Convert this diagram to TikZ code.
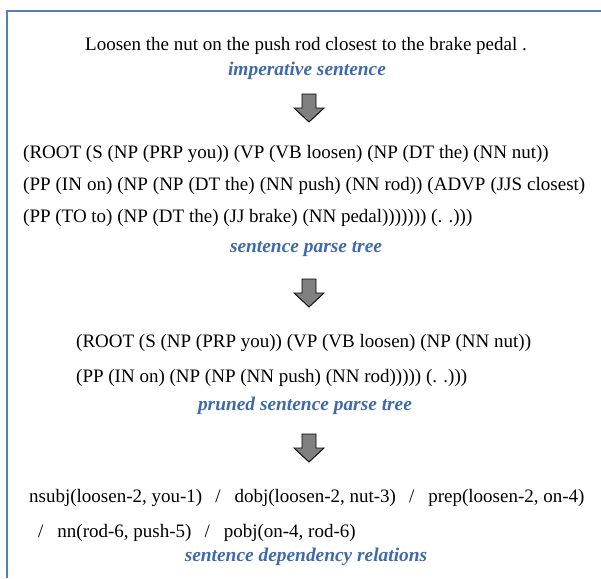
\documentclass[tikz,border=0pt]{standalone}
\usepackage{fontspec}
\setmainfont{Liberation Serif}
\usepackage{xcolor}
\usetikzlibrary{positioning}

\definecolor{frameblue}{HTML}{4F81BD}
\definecolor{tagblue}{HTML}{3E6AAA}
\definecolor{arrowgray}{HTML}{808080}

\newcommand{\depsep}{\hspace{13pt}/\hspace{14pt}}

\tikzset{
    blockarrow/.pic={
        \draw[fill=arrowgray, line width=0.9pt, line join=miter]
            (-7,0) -- (7,0) -- (7,14) -- (15,14) -- (0,28) -- (-15,14) -- (-7,14) -- cycle;
    }
}

\begin{document}
\begin{tikzpicture}[
    x=1pt, y=-1pt,
    every node/.style={font=\fontsize{19}{22}\selectfont, inner sep=0pt},
    line/.style={anchor=base west},
    mid/.style={anchor=base},
    tag/.style={anchor=base, text=tagblue, font=\fontsize{19.4}{22}\selectfont\bfseries\itshape}
]
\useasboundingbox (0,0) rectangle (601,578);
\draw[frameblue, line width=2.2pt] (601,11) -- (7,11) -- (7,578);

\node[mid] (sent) at (306,51) {Loosen the nut on the push rod closest to the brake pedal .};
\node[tag] (imptag) at (307,75) {imperative sentence};
\pic at (309,94) {blockarrow};

\node[line] (tree1) at (23,158) {(ROOT (S (NP (PRP you)) (VP (VB loosen) (NP (DT the) (NN nut))};
\node[line] (tree2) at (23,190) {\spaceskip=5.0pt (PP (IN on) (NP (NP (DT the) (NN push) (NN rod)) (ADVP (JJS closest)};
\node[line] (tree3) at (23,222) {(PP (TO to) (NP (DT the) (JJ brake) (NN pedal))))))) (. .)))};
\node[tag] (treetag) at (306,252) {sentence parse tree};
\pic at (309,279) {blockarrow};

\node[line] (prune1) at (76,347) {(ROOT (S (NP (PRP you)) (VP (VB loosen) (NP (NN nut))};
\node[line] (prune2) at (76,382) {(PP (IN on) (NP (NP (NN push) (NN rod))))) (. .)))};
\node[tag] (prunetag) at (305,410) {pruned sentence parse tree};
\pic at (309,434) {blockarrow};

\node[line] (dep1) at (29,502) {nsubj(loosen-2, you-1)\depsep dobj(loosen-2, nut-3)\depsep prep(loosen-2, on-4)};
\node[line] (dep2) at (38,537) {/\hspace{14pt}nn(rod-6, push-5)\depsep pobj(on-4, rod-6)};
\node[tag] (deptag) at (306,561) {sentence dependency relations};
\end{tikzpicture}
\end{document}
